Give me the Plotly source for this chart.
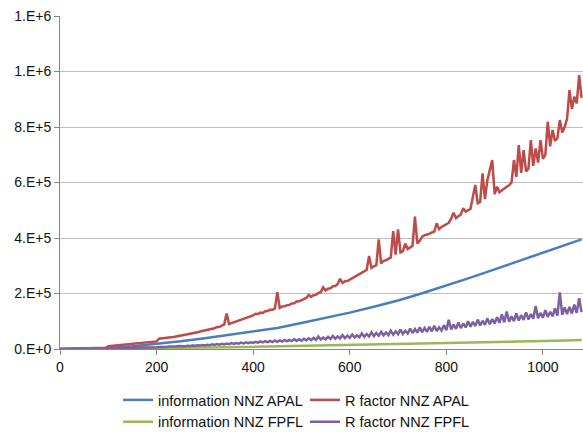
import plotly.graph_objects as go

# ---------------- data ----------------
x_fine = list(range(0, 1081, 5))           # x positions for the spiky series
x_coarse = [0, 50, 100, 150, 200, 250, 300, 350, 400, 450, 500, 550, 600, 650,
            700, 750, 800, 850, 900, 950, 1000, 1050, 1080]

# values in thousands
info_apal_k = [0, 1, 4, 10, 18, 28, 39, 51, 62, 76, 94, 112, 131, 152,
               175, 201, 228, 257, 287, 317, 347, 376, 395]

info_fpfl_k = [0, 0.5, 1, 2, 3, 4, 5.5, 6.5, 8, 9.5, 11, 12.5, 14, 15.5,
               17, 19, 21, 22.5, 24.5, 26.5, 28.5, 30.5, 32]

rfac_apal_k = [
    0, 0.2, 0.4, 0.6, 0.8, 1.0, 1.2, 1.4, 1.6, 1.8, 2.0, 2.2, 2.5, 2.8, 3.1, 3.4, 3.7, 4.0, 4.3, 4.6,
    10, 10.8, 11.6, 12.4, 13.2, 14.0, 14.8, 15.6, 16.4, 17.2, 18.0, 18.8, 19.6, 20.5, 21.5, 22.5, 23.5, 24.5, 25.5, 26.5,
    27.5, 37, 37.5, 38.5, 39.5, 40.5, 42, 43, 44.5, 46, 48, 49, 51, 52, 55, 56, 58, 60, 63, 65,
    67, 70, 70, 74, 75, 79, 79, 84, 88, 128, 90, 93, 96, 100, 103, 107, 109, 113, 115, 119,
    121, 127, 126, 131, 130, 136, 137, 141, 141, 146, 205, 148, 153, 154, 158, 159, 164, 165, 171, 172,
    176, 182, 184, 195, 188, 194, 195, 202, 205, 222, 211, 217, 219, 226, 227, 234, 253, 238, 244, 245,
    250, 255, 260, 264, 268, 272, 278, 285, 335, 292, 298, 302, 395, 308, 318, 320, 325, 330, 425, 340,
    431, 348, 352, 380, 360, 365, 372, 477, 380, 390, 405, 410, 412, 415, 420, 423, 453, 432, 440, 445,
    450, 455, 470, 491, 472, 478, 485, 507, 495, 500, 505, 549, 591, 525, 530, 633, 540, 609, 651, 681,
    558, 585, 565, 570, 578, 585, 590, 600, 681, 620, 735, 635, 717, 640, 650, 753, 660, 723, 672, 753,
    685, 700, 819, 730, 789, 750, 760, 825, 780, 800, 830, 933, 865, 909, 885, 987, 905,
]

rfac_fpfl_k = [
    0, 0.1, 0.2, 0.3, 0.4, 0.5, 0.6, 0.7, 0.8, 0.9, 1.0, 1.1, 1.2, 1.3, 1.4, 1.5, 1.6, 1.7, 1.8, 1.9,
    2.0, 2.2, 2.4, 2.7, 2.8, 3.1, 3.2, 3.6, 3.6, 4.1, 4.0, 4.5, 4.4, 5.0, 4.8, 5.4, 5.2, 5.9, 5.6, 6.3,
    6.0, 7.5, 6.8, 8.2, 7.4, 8.9, 8.1, 9.8, 8.8, 10.5, 9.5, 11.2, 10.2, 12.0, 10.9, 12.8, 11.6, 13.5, 12.3, 14.5,
    13.0, 15.5, 13.9, 16.8, 14.8, 17.6, 15.7, 18.9, 16.6, 19.5, 17.5, 21.0, 18.4, 21.5, 19.3, 23.0, 20.2, 23.8, 21.1, 24.5,
    22.0, 26.0, 22.8, 27.5, 23.6, 28.0, 24.4, 29.5, 25.2, 30.5, 26.0, 31.0, 26.8, 32.5, 27.6, 33.0, 28.4, 35.5, 29.2, 35.0,
    30.0, 37.0, 31.0, 38.5, 32.0, 40.0, 33.0, 45.0, 34.0, 41.0, 35.0, 44.0, 36.0, 47.0, 37.0, 45.0, 38.0, 50.0, 39.0, 48.0,
    40.0, 52.0, 41.3, 49.0, 42.6, 56.0, 43.9, 54.0, 45.2, 60.0, 46.5, 58.0, 47.8, 62.0, 49.1, 60.0, 50.4, 66.0, 51.7, 64.0,
    53.0, 70.0, 54.5, 66.0, 56.0, 74.0, 57.5, 72.0, 59.0, 78.0, 60.5, 76.0, 62.0, 80.0, 63.5, 84.0, 65.0, 78.0, 66.5, 86.0,
    68.0, 105.0, 70.4, 88.0, 72.8, 96.0, 75.2, 92.0, 77.6, 100.0, 80.0, 98.0, 82.4, 106.0, 84.8, 102.0, 87.2, 110.0, 89.6, 108.0,
    92.0, 115.0, 94.1, 125.0, 96.2, 135.0, 98.3, 118.0, 100.4, 128.0, 102.5, 122.0, 104.6, 132.0, 106.7, 126.0, 108.8, 155.0, 110.9, 130.0,
    113.0, 140.0, 115.5, 134.0, 118.0, 146.0, 120.5, 204.0, 123.0, 150.0, 125.5, 152.0, 128.0, 160.0, 130.5, 183.0, 133.0,
]

series_names = ["information NNZ APAL", "R factor NNZ APAL",
                "information NNZ FPFL", "R factor NNZ FPFL"]
series_colors = ["#4A7EBB", "#BE4B48", "#98B954", "#7D60A0"]

y_tickvals = [0, 200000, 400000, 600000, 800000, 1000000, 1200000]
y_ticktext = ["0.E+0", "2.E+5", "4.E+5", "6.E+5", "8.E+5", "1.E+6", "1.E+6"]
x_tickvals = [0, 200, 400, 600, 800, 1000]

# ---------------- figure ----------------
FONT = "Liberation Sans"
fig = go.Figure()
data = [
    (x_coarse, info_apal_k),
    (x_fine, rfac_apal_k),
    (x_coarse, info_fpfl_k),
    (x_fine, rfac_fpfl_k),
]
for (xs, ys), name, col in zip(data, series_names, series_colors):
    fig.add_trace(go.Scatter(
        x=xs, y=[v * 1000 for v in ys], name=name, mode="lines",
        line=dict(color=col, width=2.5),
    ))

fig.update_layout(
    width=583, height=432,
    margin=dict(l=60, r=0, t=16, b=83, autoexpand=False),
    paper_bgcolor="white", plot_bgcolor="white",
    font=dict(family=FONT, size=14, color="#111111"),
    showlegend=True,
    legend=dict(
        orientation="h", x=0.111, y=-0.105, xanchor="left", yanchor="top",
        entrywidth=142, entrywidthmode="pixels",
        font=dict(family=FONT, size=14.5, color="#111111"),
        tracegroupgap=0, bgcolor="rgba(0,0,0,0)",
    ),
    xaxis=dict(
        range=[0, 1083], tickvals=x_tickvals, showgrid=False, zeroline=False,
        showline=True, linecolor="#868686", linewidth=1,
        ticks="outside", ticklen=5, tickcolor="#868686",
    ),
    yaxis=dict(
        range=[0, 1200000], tickvals=y_tickvals, ticktext=y_ticktext,
        showgrid=True, gridcolor="#BFBFBF", gridwidth=1, zeroline=False,
        showline=True, linecolor="#868686", linewidth=1,
        ticks="outside", ticklen=5, tickcolor="#868686",
    ),
)

fig.write_html("out.html")
